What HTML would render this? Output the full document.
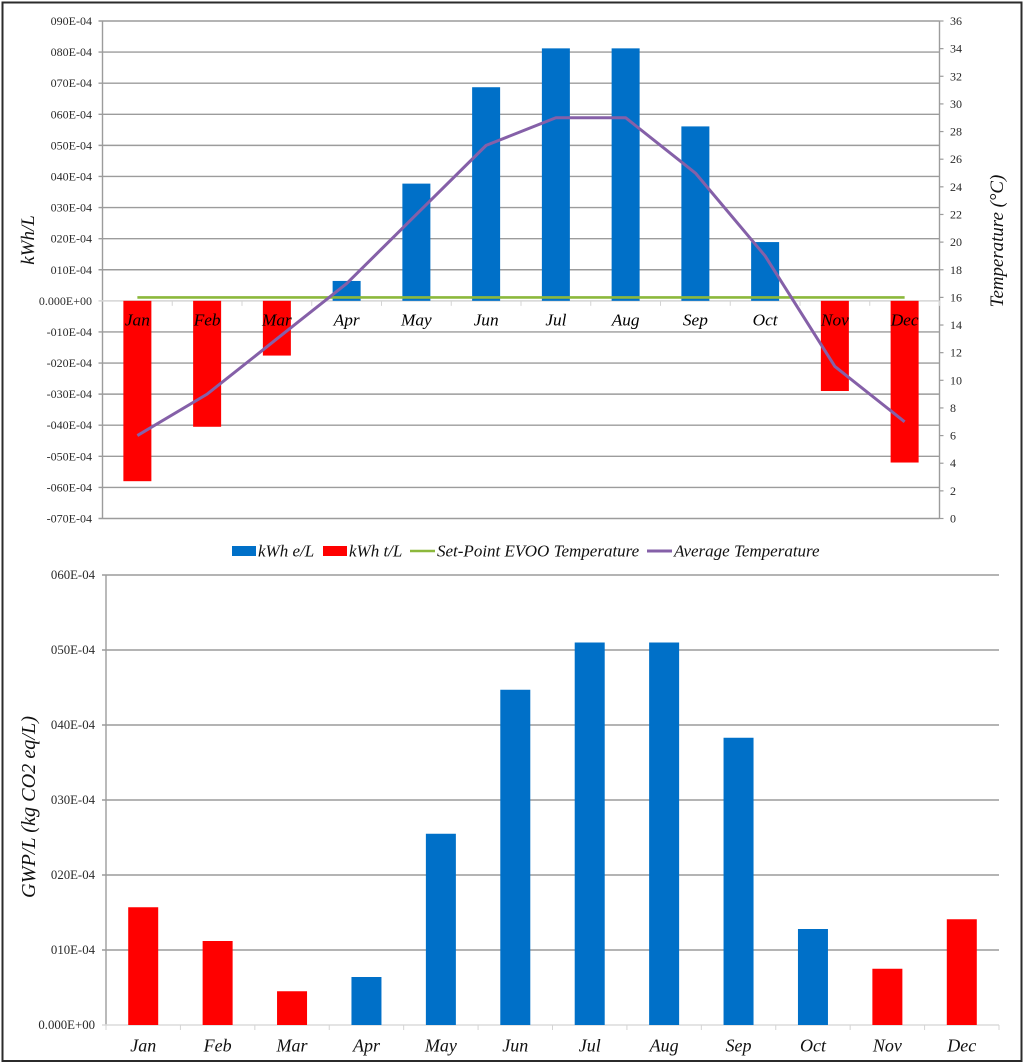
<!DOCTYPE html>
<html lang="en">
<head>
<meta charset="utf-8">
<title>Monthly energy, temperature and GWP per litre</title>
<style>
html,body{margin:0;padding:0;background:#fff;}
svg{display:block;font-family:"Liberation Serif",serif;filter:blur(0.35px);}
.tick{font-size:12px;fill:#2a2a2a;}
.tick2{font-size:12.8px;fill:#2a2a2a;}
.mon{font-size:17.3px;font-style:italic;fill:#000;}
.mon2{font-size:18px;font-style:italic;fill:#111;}
.title{font-style:italic;fill:#111;}
.leg{font-size:17px;font-style:italic;fill:#111;}
</style>
</head>
<body>
<svg id="figure" width="1024" height="1064" viewBox="0 0 1024 1064" xmlns="http://www.w3.org/2000/svg">
<rect x="2.5" y="2.5" width="1019" height="1058.5" fill="#fff" stroke="#2b2b2b" stroke-width="2"/>
<g id="top-chart"></g>
<g id="bottom-chart"></g>
<g id="legend">
<g><rect x="232" y="546" width="24" height="10" fill="#0070c8"/><text class="leg" x="258" y="556.5">kWh e/L</text></g>
<g><rect x="323" y="546" width="24" height="10" fill="#ff0000"/><text class="leg" x="349" y="556.5">kWh t/L</text></g>
<g><line x1="410" y1="551" x2="435" y2="551" stroke="#8cb83c" stroke-width="2.5"/><text class="leg" x="437" y="556.5">Set-Point EVOO Temperature</text></g>
<g><line x1="647" y1="551" x2="672" y2="551" stroke="#8560a8" stroke-width="3"/><text class="leg" x="674" y="556.5">Average Temperature</text></g>
</g>
</svg>
<script>
const months = ['Jan','Feb','Mar','Apr','May','Jun','Jul','Aug','Sep','Oct','Nov','Dec'];
// Top chart, left axis values in units of 1E-04 kWh/L
const kwhElectric = [0,0,0,6.4,37.7,68.7,81.2,81.2,56.1,18.9,0,0];
const kwhThermal = [-58,-40.5,-17.6,0,0,0,0,0,0,0,-29,-52];
const setPointTemp = [16,16,16,16,16,16,16,16,16,16,16,16];
const averageTemp = [6,9,13,17,22,27,29,29,25,19,11,7];
const leftTicks = [90,80,70,60,50,40,30,20,10,0,-10,-20,-30,-40,-50,-60,-70];
const rightTicks = [0,2,4,6,8,10,12,14,16,18,20,22,24,26,28,30,32,34,36];
// Bottom chart, values in units of 1E-04 kg CO2 eq/L
const gwpValues = [15.7,11.2,4.5,6.4,25.5,44.7,51,51,38.3,12.8,7.5,14.1];
const gwpIsThermal = [true,true,true,false,false,false,false,false,false,false,true,true];
const gwpTicks = [60,50,40,30,20,10,0];

const NS = 'http://www.w3.org/2000/svg';
const GRID = '#9c9c9c', BLUE = '#0070c8', RED = '#ff0000';
function mk(parent, tag, attrs, text) {
  const el = document.createElementNS(NS, tag);
  for (const k in attrs) el.setAttribute(k, attrs[k]);
  if (text !== undefined) el.textContent = text;
  parent.appendChild(el);
  return el;
}
function fmt(v) {
  if (v === 0) return '0.000E+00';
  const s = String(Math.abs(v)).padStart(3, '0');
  return (v < 0 ? '-' : '') + s + 'E-04';
}

/* ---------- top chart ---------- */
(function () {
  const g = document.getElementById('top-chart');
  const L = 102.5, R = 939.5, T = 21, B = 518.5;
  const lMax = Math.max.apply(null, leftTicks), lMin = Math.min.apply(null, leftTicks);
  const rMax = Math.max.apply(null, rightTicks), rMin = Math.min.apply(null, rightTicks);
  const y = v => T + (lMax - v) * (B - T) / (lMax - lMin);
  const yT = v => T + (rMax - v) * (B - T) / (rMax - rMin);
  const band = (R - L) / months.length;
  const x = i => L + band * (i + 0.5);
  const barW = 28;

  leftTicks.forEach(t => {
    if (t !== 0) {
      const gl = mk(g, 'line', {x1: L - 4, x2: R, y1: y(t), y2: y(t), stroke: GRID, 'stroke-width': 1.4});
      
      
    }
    const lb = mk(g, 'text', {class: 'tick', x: 92, y: y(t) + 4, 'text-anchor': 'end'}, fmt(t));
    
    
  });
  const la = mk(g, 'line', {x1: L, x2: L, y1: T, y2: B, stroke: GRID, 'stroke-width': 1.4});
  
  
  const ra = mk(g, 'line', {x1: R, x2: R, y1: T, y2: B, stroke: GRID, 'stroke-width': 1.4});
  
  
  const za = mk(g, 'line', {x1: L - 4, x2: R, y1: y(0), y2: y(0), stroke: '#d4d4d4', 'stroke-width': 1.5});
  
  
  for (let i = 1; i <= months.length; i++) {
    const tk = mk(g, 'line', {x1: L + band * i, x2: L + band * i, y1: y(0), y2: y(0) + 5, stroke: '#d4d4d4', 'stroke-width': 1});
    
    
  }
  rightTicks.forEach(t => {
    const tk = mk(g, 'line', {x1: R, x2: R + 4, y1: yT(t), y2: yT(t), stroke: GRID, 'stroke-width': 1.2});
    
    
    const lb = mk(g, 'text', {class: 'tick', x: 950, y: yT(t) + 4}, String(t));
    
    
  });

  months.forEach((m, i) => {
    [[kwhElectric[i], BLUE, 'bar-kwh-electric'], [kwhThermal[i], RED, 'bar-kwh-thermal']].forEach(s => {
      if (s[0] === 0) return;
      const top = Math.min(y(s[0]), y(0));
      const b = mk(g, 'rect', {x: x(i) - barW / 2, y: top, width: barW, height: Math.abs(y(s[0]) - y(0)), fill: s[1]});
      
      
    });
  });
  months.forEach((m, i) => {
    const lb = mk(g, 'text', {class: 'mon', x: x(i), y: 325.5, 'text-anchor': 'middle'}, m);
    
    
  });

  const sp = mk(g, 'polyline', {points: setPointTemp.map((v, i) => x(i) + ',' + yT(v)).join(' '), fill: 'none', stroke: '#8cb83c', 'stroke-width': 2.6});
  
  
  const av = mk(g, 'polyline', {points: averageTemp.map((v, i) => x(i) + ',' + yT(v)).join(' '), fill: 'none', stroke: '#8560a8', 'stroke-width': 3, 'stroke-linejoin': 'round'});
  
  

  const t1 = mk(g, 'text', {class: 'title', 'font-size': 19, transform: 'translate(34,240) rotate(-90)', 'text-anchor': 'middle'}, 'kWh/L');
  
  
  const t2 = mk(g, 'text', {class: 'title', 'font-size': 18.9, transform: 'translate(1003,241) rotate(-90)', 'text-anchor': 'middle'}, 'Temperature (°C)');
  
  
})();

/* ---------- bottom chart ---------- */
(function () {
  const g = document.getElementById('bottom-chart');
  const L = 106, R = 999, T = 575, B = 1025;
  const vMax = Math.max.apply(null, gwpTicks), vMin = Math.min.apply(null, gwpTicks);
  const y = v => T + (vMax - v) * (B - T) / (vMax - vMin);
  const band = (R - L) / months.length;
  const x = i => L + band * (i + 0.5);
  const barW = 30;

  gwpTicks.forEach(t => {
    if (t !== 0) {
      const gl = mk(g, 'line', {x1: L - 4, x2: R, y1: y(t), y2: y(t), stroke: GRID, 'stroke-width': 1.4});
      
      
    }
    const lb = mk(g, 'text', {class: 'tick2', x: 95, y: y(t) + 4, 'text-anchor': 'end'}, fmt(t));
    
    
  });
  const la = mk(g, 'line', {x1: L, x2: L, y1: T, y2: B, stroke: GRID, 'stroke-width': 1.4});
  
  
  const za = mk(g, 'line', {x1: L - 4, x2: R, y1: y(0), y2: y(0), stroke: '#dcdcdc', 'stroke-width': 1.5});
  
  
  for (let i = 0; i <= months.length; i++) {
    const tk = mk(g, 'line', {x1: L + band * i, x2: L + band * i, y1: y(0), y2: y(0) + 5, stroke: '#d4d4d4', 'stroke-width': 1});
    
    
  }
  months.forEach((m, i) => {
    const b = mk(g, 'rect', {x: x(i) - barW / 2, y: y(gwpValues[i]), width: barW, height: y(0) - y(gwpValues[i]), fill: gwpIsThermal[i] ? RED : BLUE});
    
    
    const lb = mk(g, 'text', {class: 'mon2', x: x(i), y: 1051.5, 'text-anchor': 'middle'}, m);
    
    
  });

  const t = mk(g, 'text', {class: 'title', 'font-size': 20.2, transform: 'translate(35,807) rotate(-90)', 'text-anchor': 'middle'}, 'GWP/L (kg CO2 eq/L)');
  
  
})();
</script>
</body>
</html>
